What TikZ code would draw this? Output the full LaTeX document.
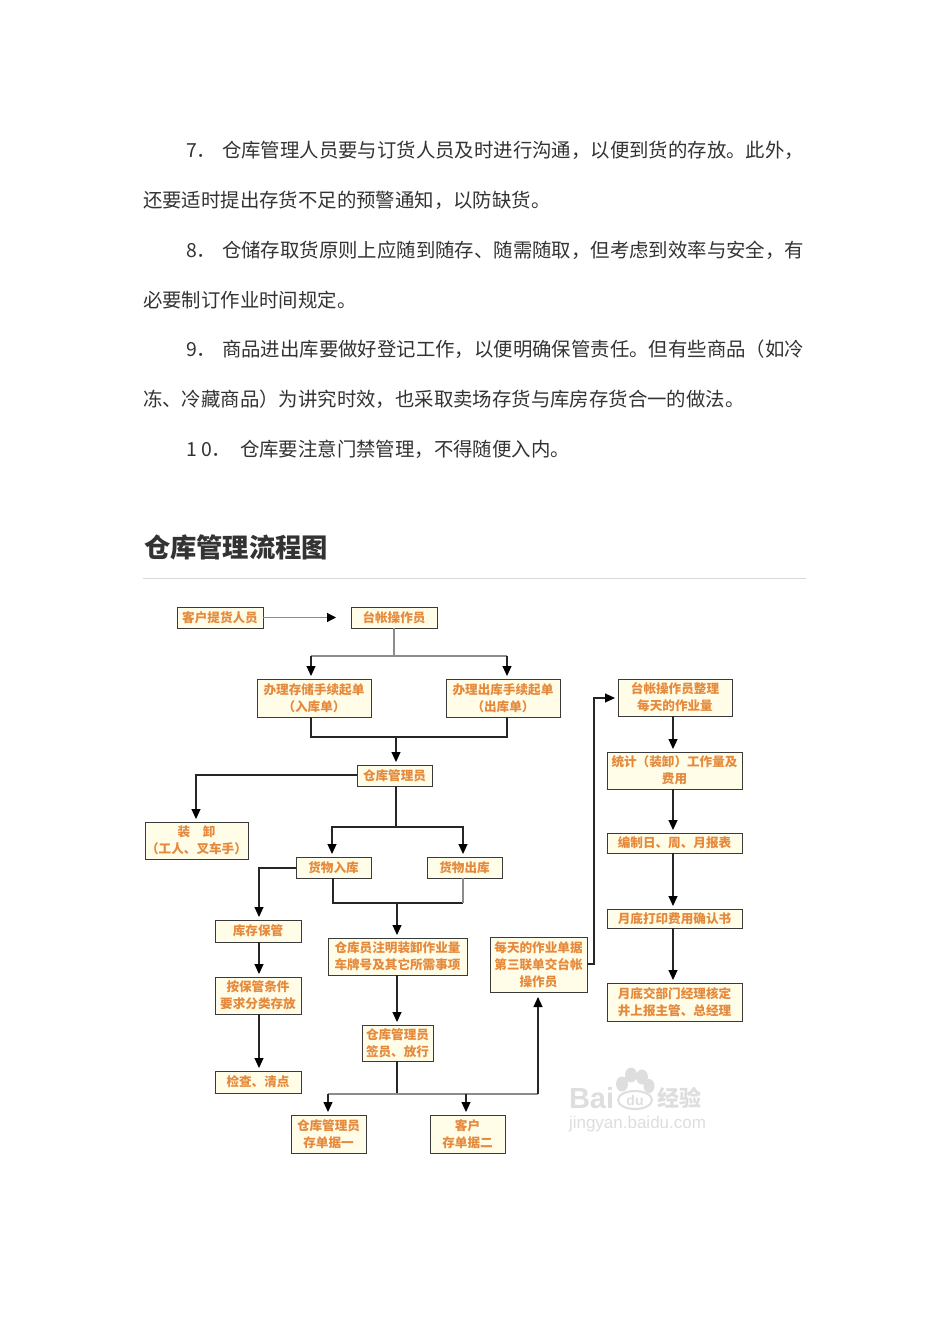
\documentclass[tikz,border=0pt]{standalone}
\usepackage{fontspec}
\usetikzlibrary{arrows.meta,calc}
\setmainfont{Noto Sans CJK SC}
\newfontfamily\cjkfont{Noto Sans CJK SC}
\newfontfamily\latinwm{Liberation Sans}
\definecolor{bodytext}{HTML}{333333}
\definecolor{boxfill}{HTML}{FFFCE8}
\definecolor{boxtext}{HTML}{E58A3C}
\definecolor{boxline}{HTML}{3A3A3A}
\definecolor{linegrey}{HTML}{8C8C8C}
\definecolor{wm}{HTML}{DEDEDE}
\tikzset{
  para/.style={anchor=base west,inner sep=0,outer sep=0,text=bodytext,font=\fontsize{19.4}{21}\selectfont},
  heading/.style={anchor=base west,inner sep=0,outer sep=0,text=bodytext,font=\fontsize{26.3}{28}\bfseries\selectfont},
  flowbox/.style={draw=boxline,line width=0.9pt,fill=boxfill,text=boxtext,inner sep=0,outer sep=0,align=center,
    font=\fontsize{12.6}{17}\bfseries\selectfont},
  conn/.style={draw=black!85,line width=1.1pt},
  pale/.style={draw=linegrey,line width=1.2pt},
  tip/.style={-{Triangle[width=9pt,length=10pt,fill=black,color=black]},shorten >=3pt},
  wmtext/.style={inner sep=0,outer sep=0,text=wm},
}
\newcommand{\fbx}[6]{\node[flowbox,minimum width={(#4-#2)*1pt},minimum height={(#5-#3)*1pt}] (#1) at ({(#2+#4)/2},{(#3+#5)/2}) {#6};}
\begin{document}
\begin{tikzpicture}[x=1pt,y=-1pt]
\useasboundingbox[fill=white] (0,0) rectangle (950,1344);
% body text
\node[para] (n7) at (186,157) {7．};
\node[para] (t7a) at (222,157) {仓库管理人员要与订货人员及时进行沟通，以便到货的存放。此外，};
\node[para] (t7b) at (143,207) {还要适时提出存货不足的预警通知，以防缺货。};
\node[para] (n8) at (186,257) {8．};
\node[para] (t8a) at (222,257) {仓储存取货原则上应随到随存、随需随取，但考虑到效率与安全，有};
\node[para] (t8b) at (143,307) {必要制订作业时间规定。};
\node[para] (n9) at (186,356) {9．};
\node[para] (t9a) at (222,356) {商品进出库要做好登记工作，以便明确保管责任。但有些商品（如冷};
\node[para] (t9b) at (143,406) {冻、冷藏商品）为讲究时效，也采取卖场存货与库房存货合一的做法。};
\node[para] (n10) at (186,456) {1 0．};
\node[para] (t10) at (240,456) {仓库要注意门禁管理，不得随便入内。};
\node[heading] (title) at (144,557) {仓库管理流程图};
\coordinate (ruleL) at (143,578.5);
\coordinate (ruleR) at (806,578.5);
\draw[draw=black!15,line width=1.2pt] (ruleL) -- (ruleR);
% watermark
\node[wmtext,anchor=base west,font=\latinwm\fontsize{29}{30}\bfseries\selectfont] (wmBai) at (569,1108) {Bai};
\fill[wm] (622,1084) ellipse (6 and 7.5) (631,1075) ellipse (6 and 7.5) (642,1077) ellipse (6 and 7.5) (649,1086) ellipse (5.5 and 7);
\draw[wm,line width=2pt,fill=white] (635,1100) ellipse (17 and 9);
\node[wmtext,font=\latinwm\fontsize{14}{15}\bfseries\selectfont] (wmdu) at (635,1100) {du};
\node[wmtext,anchor=base west,font=\fontsize{22}{23}\bfseries\selectfont] (wmjy) at (657,1106) {经验};
\node[wmtext,anchor=base west,font=\latinwm\fontsize{17}{18}\selectfont] (wmurl) at (569,1128) {jingyan.baidu.com};
% boxes
\fbx{kh}{177}{607}{263}{628}{客户提货人员}
\fbx{tz}{351}{607}{437}{628}{台帐操作员}
\fbx{rk}{257}{679}{371}{717}{办理存储手续起单\\（入库单）}
\fbx{ck}{446}{679}{560}{717}{办理出库手续起单\\（出库单）}
\fbx{gl}{357}{765}{432}{786}{仓库管理员}
\fbx{zx}{145}{822}{248}{859}{装　卸\\（工人、叉车手）}
\fbx{hr}{296}{857}{371}{878}{货物入库}
\fbx{hc}{427}{857}{502}{878}{货物出库}
\fbx{bg}{215}{920}{301}{942}{库存保管}
\fbx{fl}{215}{977}{301}{1014}{按保管条件\\要求分类存放}
\fbx{jc}{215}{1071}{301}{1093}{检查、清点}
\fbx{zm}{328}{938}{467}{975}{仓库员注明装卸作业量\\车牌号及其它所需事项}
\fbx{qy}{362}{1025}{433}{1061}{仓库管理员\\签员、放行}
\fbx{d1}{291}{1115}{366}{1153}{仓库管理员\\存单据一}
\fbx{d2}{430}{1115}{505}{1153}{客户\\存单据二}
\fbx{mt}{490}{937}{587}{992}{每天的作业单据\\第三联单交台帐\\操作员}
\fbx{zl}{618}{679}{732}{716}{台帐操作员整理\\每天的作业量}
\fbx{tj}{607}{752}{742}{789}{统计（装卸）工作量及\\费用}
\fbx{bb}{607}{833}{742}{853}{编制日、周、月报表}
\fbx{qr}{607}{909}{742}{928}{月底打印费用确认书}
\fbx{hd}{607}{983}{742}{1021}{月底交部门经理核定\\井上报主管、总经理}
% junctions
\coordinate (a1) at (394,656);
\coordinate (a2) at (311,656);
\coordinate (a3) at (507,656);
\coordinate (b1) at (311,737);
\coordinate (b2) at (507,737);
\coordinate (b3) at (396,737);
\coordinate (c1) at (196,775);
\coordinate (e1) at (396,827);
\coordinate (e2) at (332,827);
\coordinate (e3) at (463,827);
\coordinate (f1) at (259,868);
\coordinate (g1) at (333,903);
\coordinate (g2) at (463,903);
\coordinate (g3) at (397,903);
\coordinate (h1) at (397,1094);
\coordinate (h2) at (328,1094);
\coordinate (h3) at (466,1094);
\coordinate (h4) at (538,1094);
\coordinate (k1) at (594,964);
\coordinate (k2) at (594,698);
\coordinate (m1) at (336,617.5);
\coordinate (v1) at (673,700);
% connectors
\draw[-{Triangle[width=9pt,length=9pt,fill=black,color=black]},pale] (kh.east) -- (m1);
\draw[pale] (a1 |- tz.south) -- (a1);
\draw[pale] (a2) -- (a3);
\draw[conn,tip] (a2) -- (a2 |- rk.north);
\draw[conn,tip] (a3) -- (a3 |- ck.north);
\draw[conn] (b1 |- rk.south) -- (b1) -- (b2) -- (b2 |- ck.south);
\draw[conn,tip] (b3) -- (b3 |- gl.north);
\draw[conn,tip] (gl.west |- c1) -- (c1) -- (c1 |- zx.north);
\draw[conn] (e1 |- gl.south) -- (e1);
\draw[conn,tip] (e1) -- (e2) -- (e2 |- hr.north);
\draw[conn,tip] (e1) -- (e3) -- (e3 |- hc.north);
\draw[conn,tip] (hr.west |- f1) -- (f1) -- (f1 |- bg.north);
\draw[conn] (g1 |- hr.south) -- (g1) -- (g2);
\draw[pale] (g2) -- (g2 |- hc.south);
\draw[conn,tip] (g3) -- (g3 |- zm.north);
\draw[conn,tip] (f1 |- bg.south) -- (f1 |- fl.north);
\draw[conn,tip] (f1 |- fl.south) -- (f1 |- jc.north);
\draw[conn,tip] (g3 |- zm.south) -- (g3 |- qy.north);
\draw[conn] (h1 |- qy.south) -- (h1);
\draw[pale] (h2) -- (h4);
\draw[conn,tip] (h2) -- (h2 |- d1.north);
\draw[conn,tip] (h3) -- (h3 |- d2.north);
\draw[conn,tip,shorten >=5pt] (h4) -- (h4 |- mt.south);
\draw[conn,tip] (mt.east |- k1) -- (k1) -- (k2) -- (k2 -| zl.west);
\draw[conn,tip] (v1 |- zl.south) -- (v1 |- tj.north);
\draw[conn,tip] (v1 |- tj.south) -- (v1 |- bb.north);
\draw[conn,tip] (v1 |- bb.south) -- (v1 |- qr.north);
\draw[conn,tip] (v1 |- qr.south) -- (v1 |- hd.north);
\end{tikzpicture}
\end{document}
